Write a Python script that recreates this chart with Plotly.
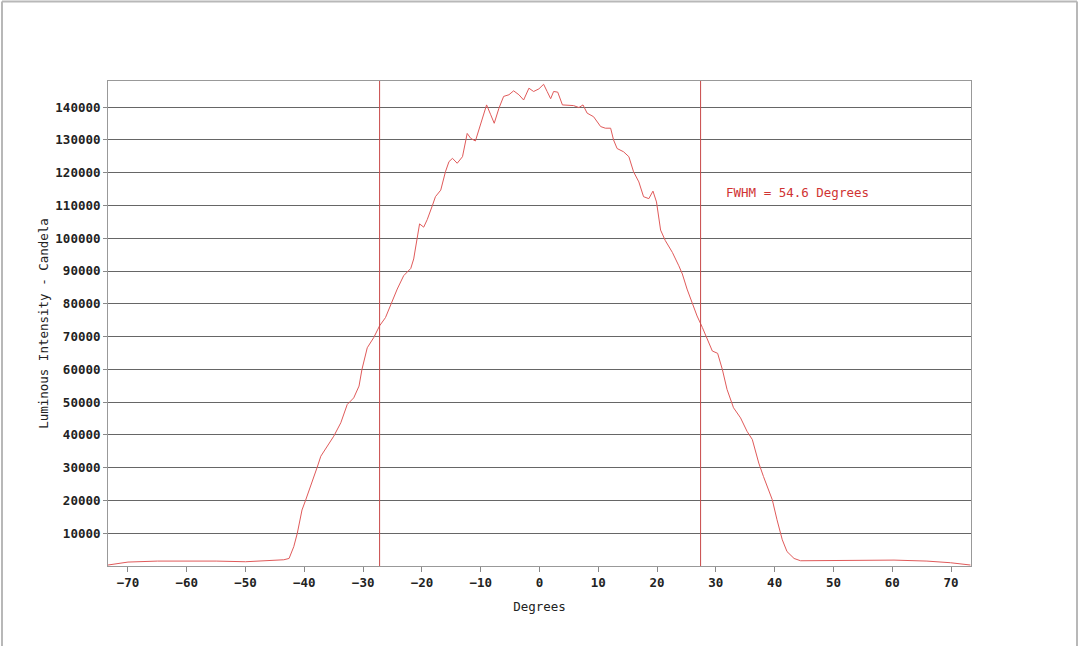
import plotly.graph_objects as go

# beam profile
degrees = [-73.4, -72.0, -70.0, -65.0, -60.0, -55.0, -50.0, -47.0, -45.0, -43.5,
           -42.6, -41.8, -41.2, -40.4, -39.8, -38.7, -37.8, -37.2, -36.1, -35.0,
           -33.8, -32.7, -31.6, -30.7, -30.2, -29.3, -28.2, -27.2, -26.2, -25.3,
           -24.2, -23.1, -21.9, -21.4, -20.8, -20.4, -19.7, -19.1, -18.2, -17.7,
           -16.8, -16.0, -15.4, -14.8, -14.0, -13.1, -12.3, -11.7, -10.9, -10.0,
           -9.0, -8.3, -7.7, -6.9, -6.1, -5.2, -4.4, -3.5, -2.7, -1.8,
           -1.0, -0.1, 0.7, 1.3, 1.9, 2.4, 3.1, 3.9, 4.7, 5.8,
           6.7, 7.4, 8.1, 9.2, 10.4, 11.2, 12.1, 12.6, 13.2, 14.3,
           15.2, 16.0, 16.9, 17.7, 18.6, 19.3, 19.9, 20.6, 21.4, 22.6,
           23.7, 24.3, 25.1, 26.0, 26.8, 27.7, 28.5, 29.4, 30.3, 31.1,
           31.9, 33.0, 34.2, 35.3, 36.2, 37.3, 38.1, 39.6, 40.4, 41.3,
           42.1, 43.3, 44.4, 50.0, 54.6, 60.3, 65.9, 69.9, 73.3]
candela = [300, 600, 1200, 1500, 1600, 1500, 1300, 1500, 1700, 1900,
           2300, 5900, 10000, 17100, 20000, 25300, 30200, 33500, 36500, 39600,
           43700, 49300, 51300, 54900, 60000, 66600, 69700, 73300, 75800, 79900,
           84500, 88600, 90800, 93700, 100800, 104400, 103400, 105700, 110100, 112700,
           114700, 120300, 123400, 124400, 122900, 124900, 132000, 130500, 129700, 135100,
           140700, 137700, 135100, 139700, 143300, 143800, 145000, 143800, 142200, 145800,
           144800, 145600, 147000, 144800, 142600, 144800, 144600, 140700, 140700, 140500,
           139900, 140700, 138200, 137100, 134100, 133600, 133600, 130000, 127400, 126400,
           124900, 120300, 117200, 112700, 112100, 114400, 111100, 102500, 99300, 95700,
           91600, 89100, 84500, 79900, 76300, 72800, 69200, 65600, 64900, 60000,
           53900, 48300, 45200, 41100, 38600, 31400, 27300, 20200, 14100, 8000,
           4400, 2300, 1600, 1600, 1700, 1800, 1500, 1000, 300]

half_max_left = -27.2
half_max_right = 27.4
fwhm_text = "FWHM = 54.6 Degrees"

x_ticks = list(range(-70, 71, 10))
y_ticks = list(range(10000, 140001, 10000))

mono = "DejaVu Sans Mono"
fsize = 12.5

fig = go.Figure()
fig.add_trace(go.Scatter(x=degrees, y=candela, mode="lines",
                         line=dict(color="#e05a5a", width=1),
                         showlegend=False, hoverinfo="x+y"))

for xv in (half_max_left, half_max_right):
    fig.add_shape(type="line", xref="x", yref="paper", x0=xv, x1=xv,
                  y0=0, y1=1, line=dict(color="#c84848", width=1))

fig.add_annotation(x=31.3, y=114100, text=fwhm_text, showarrow=False,
                   xanchor="left", yanchor="middle",
                   font=dict(family=mono, size=fsize, color="#d03434"))

# thin frame round the whole picture
L, R, T, B = 108, 109, 81, 80
pw, ph = 1080 - L - R, 646 - T - B
fx0, fx1 = (2 - L) / pw, (1077 - L) / pw
fy1 = (646 - T - 0.5) / ph
for x0, x1, y0, y1 in [(fx0, fx0, -1, fy1), (fx1, fx1, -1, fy1), (fx0, fx1, fy1, fy1)]:
    fig.add_shape(type="line", xref="paper", yref="paper", x0=x0, x1=x1,
                  y0=y0, y1=y1, line=dict(color="#b8b8b8", width=2))

fig.update_layout(
    width=1080, height=646,
    margin=dict(l=L, r=R, t=T, b=B),
    paper_bgcolor="white", plot_bgcolor="white",
    font=dict(family=mono, size=fsize, color="#222222"),
)
fig.update_xaxes(range=[-73.4, 73.4], tickvals=x_ticks,
                 ticks="outside", ticklen=5, tickcolor="#888888",
                 showgrid=False, zeroline=False,
                 showline=True, linecolor="#999999", linewidth=1, mirror=True,
                 tickfont=dict(family=mono, size=fsize, color="#222222", weight="bold"),
                 title=dict(text="Degrees", standoff=13,
                            font=dict(family=mono, size=fsize, color="#222222")))
fig.update_yaxes(range=[0, 148000], tickvals=y_ticks, tickformat="d",
                 ticks="outside", ticklen=4, tickcolor="#888888",
                 showgrid=True, gridcolor="#666666", gridwidth=1, zeroline=False,
                 showline=True, linecolor="#999999", linewidth=1, mirror=True,
                 tickfont=dict(family=mono, size=fsize, color="#222222", weight="bold"),
                 title=dict(text="Luminous Intensity - Candela", standoff=3,
                            font=dict(family=mono, size=fsize, color="#222222")))

# the page's default body margin would push the figure 8px off
fig.write_html("out.html", config={"displayModeBar": False},
               post_script="document.body.style.margin='0px';")
